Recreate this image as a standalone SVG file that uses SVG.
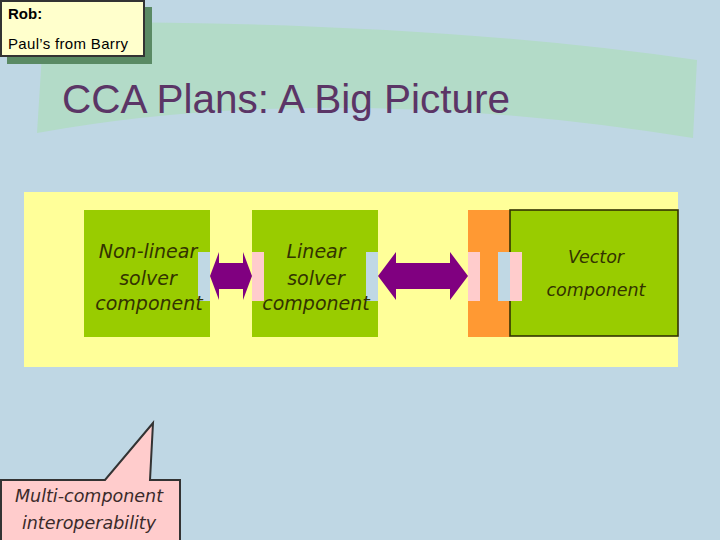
<svg xmlns="http://www.w3.org/2000/svg" width="720" height="540" viewBox="0 0 720 540">
<style>
.lbl{font-family:"DejaVu Sans",Verdana,sans-serif;font-style:italic;fill:#333300;text-anchor:middle}
.port-b{fill:#C0D8E4}
.port-p{fill:#FFCCCC}
.comp{fill:#99CC00}
.arrow{fill:#800080}
</style>
<rect x="0" y="0" width="720" height="540" fill="#BFD7E4"/>
<path d="M44,22 Q420,20 697,60 L693,138 Q330,80 37,133 Z" fill="#B3DBC8"/>
<g id="note">
<rect x="7" y="7" width="145" height="57" fill="#5A8A64"/>
<rect x="1" y="1" width="143" height="55" fill="#FFFFCC" stroke="#333333" stroke-width="2"/>
<text x="8" y="19" font-family="Liberation Sans, Arial, sans-serif" font-size="15" font-weight="bold" fill="#000">Rob:</text>
<text x="8" y="49" font-family="Liberation Sans, Arial, sans-serif" font-size="15" fill="#000" textLength="120">Paul’s from Barry</text>
</g>
<text x="62" y="113" font-family="Liberation Sans, Arial, sans-serif" font-size="40.5" fill="#5B3566">CCA Plans: A Big Picture</text>
<rect x="24" y="192" width="654" height="175" fill="#FFFF99"/>
<g id="nonlinear">
<rect class="comp" x="84" y="210" width="126" height="127"/>
<rect class="port-b" x="198" y="252" width="12" height="49"/>
<text class="lbl" font-size="19" x="148" y="258">Non-linear</text>
<text class="lbl" font-size="19" x="148" y="285">solver</text>
<text class="lbl" font-size="19" x="149" y="310">component</text>
</g>
<g id="linear">
<rect class="comp" x="252" y="210" width="126" height="127"/>
<rect class="port-p" x="252" y="252" width="12" height="49"/>
<rect class="port-b" x="366" y="252" width="12" height="49"/>
<text class="lbl" font-size="19" x="316" y="258">Linear</text>
<text class="lbl" font-size="19" x="316" y="285">solver</text>
<text class="lbl" font-size="19" x="316" y="310">component</text>
</g>
<g id="vector">
<rect x="468" y="210" width="42" height="127" fill="#FF9933"/>
<rect class="port-p" x="468" y="252" width="12" height="49"/>
<rect class="comp" x="510" y="210" width="168" height="126" stroke="#333300" stroke-width="1.6"/>
<rect class="port-b" x="498" y="252" width="12" height="49"/>
<rect class="port-p" x="510" y="252" width="12" height="49"/>
<text class="lbl" font-size="17.5" x="596" y="263">Vector</text>
<text class="lbl" font-size="17.5" x="596" y="296">component</text>
</g>
<g id="connectors">
<polygon class="arrow" points="210,276 219,252 219,263 243,263 243,252 252,276 243,300 243,289 219,289 219,300"/>
<polygon class="arrow" points="378,276 396,252 396,263 450,263 450,252 468,276 450,300 450,289 396,289 396,300"/>
</g>
<g id="callout">
<path d="M1,480 L105,480 L153,423 L150,480 L180,480 L180,542 L1,542 Z" fill="#FFCCCC" stroke="#333333" stroke-width="2"/>
<text class="lbl" font-size="17.5" x="89" y="502" style="fill:#3A2A2A">Multi-component</text>
<text class="lbl" font-size="17.5" x="89" y="529" style="fill:#3A2A2A">interoperability</text>
</g>
</svg>
